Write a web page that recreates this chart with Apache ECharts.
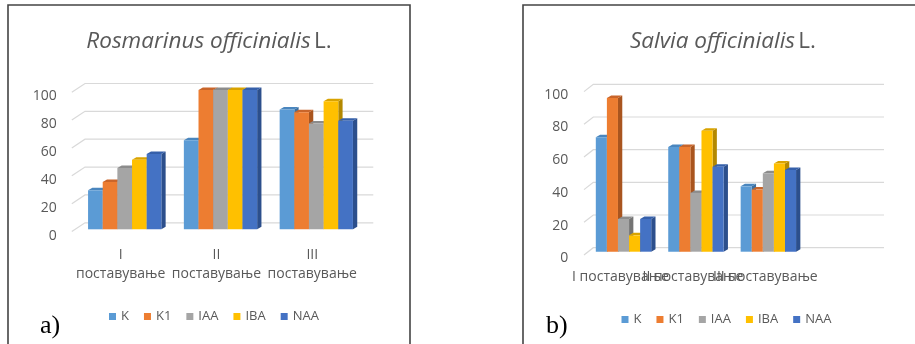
<!DOCTYPE html>
<html>
<head>
<meta charset="utf-8">
<script src="https://cdn.jsdelivr.net/npm/echarts@6/dist/echarts.min.js"></script>
<style>
html,body{margin:0;padding:0;background:#fff;}
#chart{width:915px;height:344px;}
</style>
</head>
<body>
<div id="chart"></div>
<script>
// ---- data ----
const ticks = [0, 20, 40, 60, 80, 100];
const seriesNames = ['K', 'K1', 'IAA', 'IBA', 'NAA'];
const catsA = ['I поставување', 'II поставување', 'III поставување'];
const catsB = ['I поставување', 'II поставување', 'III поставување', ''];
const titleA = 'Rosmarinus officinialis';
const titleB = 'Salvia officinialis';
const rosK = [28, 64, 86];
const rosK1 = [34, 100, 84];
const rosIAA = [44, 100, 76];
const rosIBA = [50, 100, 92];
const rosNAA = [54, 100, 78];
const salK = [70, 64, 40];
const salK1 = [94, 64, 38];
const salIAA = [20, 36, 48];
const salIBA = [10, 74, 54];
const salNAA = [20, 52, 50];

// ---- styles ----
const FONT = 'Open Sans';
const TXT = '#595959';
const front = ['#5B9BD5', '#ED7D31', '#A5A5A5', '#FFC000', '#4472C4'];
const topc = ['#4A86BE', '#C9652A', '#8C8C8C', '#D9A300', '#3660AA'];
const side = ['#3E6F9E', '#A9551F', '#747474', '#B38800', '#2C4F8C'];
const geo = [
  {fx: -5, fy: 2.2, bx: 8.2, by: -6.5, rx: 9.1},
  {fx: -3.3, fy: 3.3, bx: 6, by: -4, rx: 7}
];
const DX = 4.3, DY = 2.5;

function gridSeries(idx) {
  return {
    type: 'custom', xAxisIndex: idx, yAxisIndex: idx, silent: true, z: 1,
    data: ticks.map(t => [0, t]),
    renderItem: function (params, api) {
      const cs = params.coordSys;
      const y = api.coord([0, api.value(1)])[1];
      const g = geo[idx];
      return {
        type: 'polyline',
        shape: {points: [[cs.x + g.fx, y + g.fy], [cs.x + g.bx, y + g.by], [cs.x + cs.width + g.rx, y + g.by]]},
        style: {stroke: '#D9D9D9', lineWidth: 1.2, fill: null}
      };
    }
  };
}

function barSeries(idx, si, values) {
  return {
    type: 'custom', name: seriesNames[si], xAxisIndex: idx, yAxisIndex: idx, z: 2 + si,
    itemStyle: {color: front[si]},
    data: values.map((v, i) => [i, v]),
    renderItem: function (params, api) {
      const ci = api.value(0), v = api.value(1);
      const t = api.coord([ci, v]);
      const b = api.coord([ci, 0]);
      const slot = api.size([1, 0])[0];
      const bw = slot * 0.153;
      const x = t[0] - 2.5 * bw + si * bw;
      const yT = t[1], yB = b[1];
      return {
        type: 'group',
        children: [
          {type: 'polygon', shape: {points: [[x + bw, yT], [x + bw + DX, yT - DY], [x + bw + DX, yB - DY], [x + bw, yB]]}, style: {fill: side[si]}},
          {type: 'polygon', shape: {points: [[x, yT], [x + bw, yT], [x + bw + DX, yT - DY], [x + DX, yT - DY]]}, style: {fill: topc[si]}},
          {type: 'rect', shape: {x: x, y: yT, width: bw, height: yB - yT}, style: {fill: front[si]}}
        ]
      };
    }
  };
}

function yAxis(idx, margin) {
  return {
    type: 'value', gridIndex: idx, min: 0, max: 100, interval: 20,
    axisLine: {show: false}, axisTick: {show: false}, splitLine: {show: false},
    axisLabel: {color: TXT, fontFamily: FONT, fontSize: 14, margin: margin, verticalAlign: 'top', lineHeight: 13}
  };
}

function legend(left, top) {
  return {data: seriesNames, left: left, top: top, padding: 0, icon: 'rect', itemWidth: 7, itemHeight: 7, itemGap: 15,
    textStyle: {color: TXT, fontFamily: FONT, fontSize: 13}};
}

const chart = echarts.init(document.getElementById('chart'), null, {renderer: 'canvas'});
const option = {
  animation: false,
  backgroundColor: '#fff',
  grid: [
    {left: 76.8, right: 915 - 364.2, top: 90, bottom: 344 - 229.3},
    {left: 587.3, right: 915 - 877, top: 88.3, bottom: 344 - 251.7}
  ],
  xAxis: [
    {type: 'category', gridIndex: 0, data: catsA,
      axisLine: {show: false}, axisTick: {show: false},
      axisLabel: {interval: 0, color: TXT, fontFamily: FONT, fontSize: 14, lineHeight: 19, margin: 16, padding: [0, 8, 0, 0],
        formatter: s => s.replace(' ', '\n')}},
    {type: 'category', gridIndex: 1, data: catsB,
      axisLine: {show: false}, axisTick: {show: false},
      axisLabel: {interval: 0, hideOverlap: false, color: TXT, fontFamily: FONT, fontSize: 14, lineHeight: 19, margin: 16, padding: [0, 6, 0, 0]}}
  ],
  yAxis: [yAxis(0, 20), yAxis(1, 19)],
  legend: [legend(109, 310), legend(621.5, 313)],
  graphic: [
    {type: 'rect', shape: {x: 8, y: 5, width: 402, height: 350}, style: {fill: null, stroke: '#444', lineWidth: 1.6}, z: 0},
    {type: 'rect', shape: {x: 523, y: 5, width: 420, height: 350}, style: {fill: null, stroke: '#444', lineWidth: 1.6}, z: 0},
    {type: 'text', x: 209, y: 42, style: {text: '{i|' + titleA + '} {n|L.}', align: 'center', verticalAlign: 'middle',
      rich: {i: {fontStyle: 'italic', fontSize: 22.5, fontFamily: FONT, fill: TXT}, n: {fontSize: 22.5, fontFamily: FONT, fill: TXT}}}},
    {type: 'text', x: 723, y: 42, style: {text: '{i|' + titleB + '} {n|L.}', align: 'center', verticalAlign: 'middle',
      rich: {i: {fontStyle: 'italic', fontSize: 22.5, fontFamily: FONT, fill: TXT}, n: {fontSize: 22.5, fontFamily: FONT, fill: TXT}}}},
    {type: 'text', x: 40, y: 339, style: {text: 'a)', fontFamily: 'Liberation Serif', fontSize: 26, fill: '#000', verticalAlign: 'bottom'}},
    {type: 'text', x: 546, y: 339, style: {text: 'b)', fontFamily: 'Liberation Serif', fontSize: 26, fill: '#000', verticalAlign: 'bottom'}}
  ],
  series: [
    gridSeries(0), gridSeries(1),
    barSeries(0, 0, rosK), barSeries(0, 1, rosK1), barSeries(0, 2, rosIAA), barSeries(0, 3, rosIBA), barSeries(0, 4, rosNAA),
    barSeries(1, 0, salK), barSeries(1, 1, salK1), barSeries(1, 2, salIAA), barSeries(1, 3, salIBA), barSeries(1, 4, salNAA)
  ]
};
chart.setOption(option);
</script>
</body>
</html>
